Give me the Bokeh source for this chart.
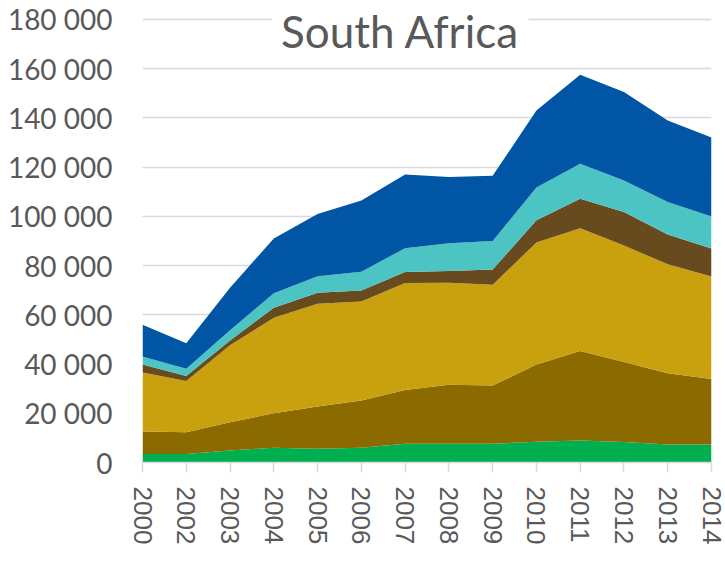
from bokeh.plotting import figure
from bokeh.models import ColumnDataSource, FixedTicker, Range1d, Label
from bokeh.embed import file_html
from bokeh.resources import INLINE

years = ["2000", "2002", "2003", "2004", "2005", "2006", "2007", "2008",
         "2009", "2010", "2011", "2012", "2013", "2014"]

s_green = [3500, 3500, 4900, 6000, 5600, 6000, 7600, 7600, 7600, 8400, 8900, 8300, 7300, 7300]
s_ochre = [9100, 8800, 11500, 14000, 17200, 19200, 21900, 24000, 23700, 31400, 36400, 32500, 29000, 26600]
s_gold = [24000, 20800, 31200, 38800, 41700, 40200, 43400, 41400, 40900, 49600, 49900, 47400, 44200, 41700]
s_brown = [3200, 2000, 2000, 4100, 4500, 4500, 4500, 4800, 6200, 9000, 12000, 13600, 12100, 11300]
s_teal = [3300, 3000, 4100, 5900, 6700, 7600, 9700, 11300, 11600, 13300, 14200, 12800, 13200, 13100]
s_blue = [12900, 10400, 17300, 22200, 25300, 29000, 29900, 26900, 26500, 31300, 36100, 35900, 33200, 32000]

y_ticks = [0, 20000, 40000, 60000, 80000, 100000, 120000, 140000, 160000, 180000]
y_tick_labels = ["0", "20 000", "40 000", "60 000", "80 000", "100 000",
                 "120 000", "140 000", "160 000", "180 000"]

series_names = ["green", "ochre", "gold", "brown", "teal", "blue"]
colors = ["#00B050", "#8B6A00", "#C9A00E", "#674B1F", "#4BC4C3", "#0055A5"]

xs = list(range(len(years)))
source = ColumnDataSource(dict(x=xs, green=s_green, ochre=s_ochre, gold=s_gold,
                               brown=s_brown, teal=s_teal, blue=s_blue))

p = figure(width=725, height=570, output_backend="svg", toolbar_location=None,
           x_range=Range1d(0, len(years) - 1), y_range=Range1d(0, 186900),
           min_border_left=142, min_border_right=14, min_border_top=2,
           min_border_bottom=108)
p.outline_line_color = None
p.background_fill_color = "white"

p.varea_stack(stackers=series_names, x="x", color=colors, source=source)

# axes
p.xaxis.ticker = FixedTicker(ticks=xs)
p.xaxis.major_label_overrides = {i: y for i, y in enumerate(years)}
p.xaxis.major_label_orientation = "vertical"
p.xaxis.major_label_text_font = "Liberation Sans"
p.xaxis.major_label_text_font_size = "26px"
p.xaxis.major_label_text_color = "#595959"
p.xaxis.axis_line_color = "#D9D9D9"
p.xaxis.axis_line_width = 1.5
p.xaxis.major_tick_line_color = "#D9D9D9"
p.xaxis.major_tick_line_width = 1.5
p.xaxis.major_tick_out = 10
p.xaxis.major_tick_in = 0
p.xaxis.minor_tick_line_color = None
p.xaxis.major_label_standoff = 14

p.yaxis.ticker = FixedTicker(ticks=y_ticks)
p.yaxis.major_label_overrides = {t: l for t, l in zip(y_ticks, y_tick_labels)}
p.yaxis.major_label_text_font = "Lato"
p.yaxis.major_label_text_font_size = "28px"
p.yaxis.major_label_text_color = "#595959"
p.yaxis.axis_line_color = None
p.yaxis.major_tick_line_color = None
p.yaxis.minor_tick_line_color = None
p.yaxis.major_tick_out = 0
p.yaxis.major_tick_in = 0
p.yaxis.major_label_standoff = 30

p.xgrid.grid_line_color = None
p.ygrid.grid_line_color = "#D9D9D9"
p.ygrid.grid_line_width = 1.5
p.ygrid.ticker = FixedTicker(ticks=y_ticks)

title = Label(x=5.89, y=175200, text="South Africa", text_align="center",
              text_baseline="alphabetic", text_font="Lato",
              text_font_size="44px", text_color="#595959",
              background_fill_color="white", padding=9)
p.add_layout(title)

open("out.html", "w").write(file_html(p, INLINE))
